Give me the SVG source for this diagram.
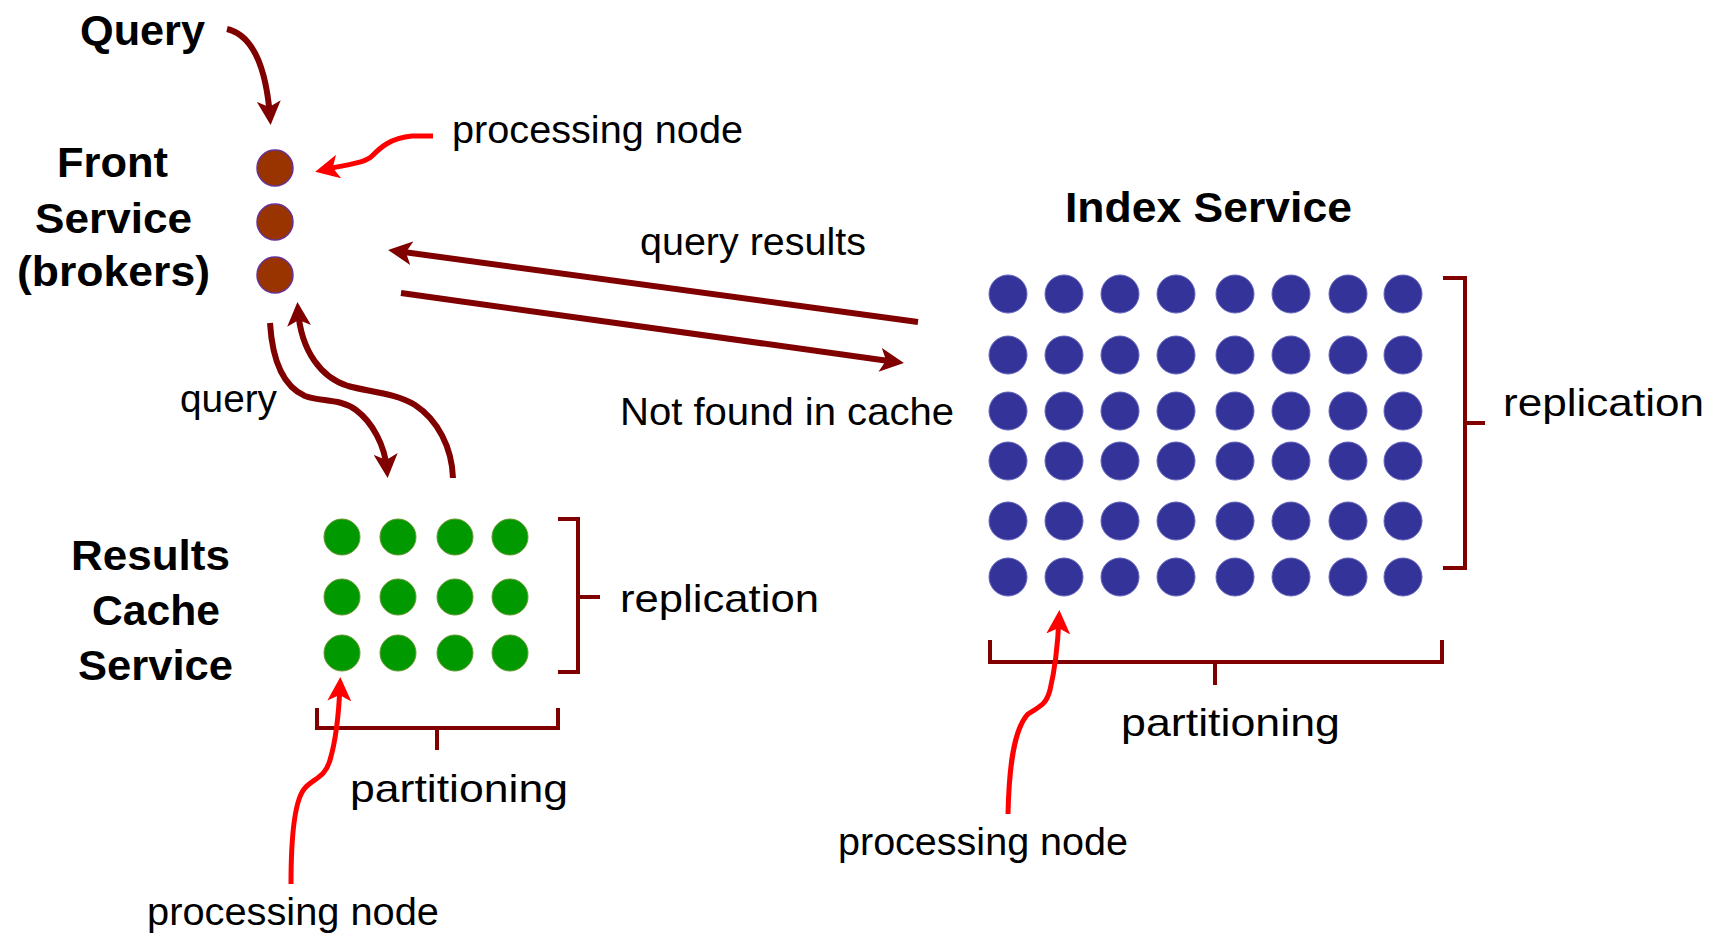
<svg xmlns="http://www.w3.org/2000/svg" width="1717" height="936" viewBox="0 0 1717 936">
<style>
.b{font-family:"Liberation Sans",Arial,sans-serif;font-weight:bold;font-size:43px;fill:#000}
.r{font-family:"Liberation Sans",Arial,sans-serif;font-size:39px;fill:#000}
.dr{fill:none;stroke:#800000;stroke-width:6}
.rd{fill:none;stroke:#ff0000;stroke-width:5}
.br{fill:none;stroke:#800000;stroke-width:4}
.fn{fill:#993300;stroke:#663399;stroke-width:1.5}
.cn{fill:#009900;stroke:#669933;stroke-width:1}
.ix{fill:#333399;stroke:#6666bb;stroke-width:1}
</style>
<defs>
<marker id="ad" viewBox="0 0 24 24" refX="16" refY="12" markerWidth="24" markerHeight="24" markerUnits="userSpaceOnUse" orient="auto">
<path d="M0,0 L24,12 L0,24 L6,12 z" fill="#800000"/>
</marker>
<marker id="ar" viewBox="0 0 24 24" refX="16" refY="12" markerWidth="24" markerHeight="24" markerUnits="userSpaceOnUse" orient="auto">
<path d="M0,0 L24,12 L0,24 L6,12 z" fill="#ff0000"/>
</marker>
</defs>
<rect width="1717" height="936" fill="#fff"/>

<g id="front-service">
<text class="b" x="80" y="45" textLength="125" lengthAdjust="spacingAndGlyphs">Query</text>
<text class="b" x="57" y="177" textLength="111" lengthAdjust="spacingAndGlyphs">Front</text>
<text class="b" x="35" y="233" textLength="157" lengthAdjust="spacingAndGlyphs">Service</text>
<text class="b" x="17" y="286" textLength="193" lengthAdjust="spacingAndGlyphs">(brokers)</text>
<circle class="fn" cx="275" cy="168" r="18"/>
<circle class="fn" cx="275" cy="222" r="18"/>
<circle class="fn" cx="275" cy="275" r="18"/>
</g>

<g id="results-cache">
<text class="b" x="71" y="570" textLength="159" lengthAdjust="spacingAndGlyphs">Results</text>
<text class="b" x="92" y="625" textLength="128" lengthAdjust="spacingAndGlyphs">Cache</text>
<text class="b" x="78" y="680" textLength="155" lengthAdjust="spacingAndGlyphs">Service</text>
<g>
<circle class="cn" cx="342" cy="537" r="18"/><circle class="cn" cx="398" cy="537" r="18"/><circle class="cn" cx="455" cy="537" r="18"/><circle class="cn" cx="510" cy="537" r="18"/>
<circle class="cn" cx="342" cy="597" r="18"/><circle class="cn" cx="398" cy="597" r="18"/><circle class="cn" cx="455" cy="597" r="18"/><circle class="cn" cx="510" cy="597" r="18"/>
<circle class="cn" cx="342" cy="653" r="18"/><circle class="cn" cx="398" cy="653" r="18"/><circle class="cn" cx="455" cy="653" r="18"/><circle class="cn" cx="510" cy="653" r="18"/>
</g>
<path class="br" d="M558,519 H578 V672 H558 M578,597 H600"/>
<text class="r" x="620" y="612" textLength="199" lengthAdjust="spacingAndGlyphs">replication</text>
<path class="br" d="M317,708 V728 H558 V708 M437,728 V750"/>
<text class="r" x="350" y="802" textLength="218" lengthAdjust="spacingAndGlyphs">partitioning</text>
<text class="r" x="147" y="925" textLength="292" lengthAdjust="spacingAndGlyphs">processing node</text>
</g>

<g id="index-service">
<text class="b" x="1065" y="222" textLength="287" lengthAdjust="spacingAndGlyphs">Index Service</text>
<g>
<circle class="ix" cx="1008" cy="294" r="19"/><circle class="ix" cx="1064" cy="294" r="19"/><circle class="ix" cx="1120" cy="294" r="19"/><circle class="ix" cx="1176" cy="294" r="19"/><circle class="ix" cx="1235" cy="294" r="19"/><circle class="ix" cx="1291" cy="294" r="19"/><circle class="ix" cx="1348" cy="294" r="19"/><circle class="ix" cx="1403" cy="294" r="19"/>
<circle class="ix" cx="1008" cy="355" r="19"/><circle class="ix" cx="1064" cy="355" r="19"/><circle class="ix" cx="1120" cy="355" r="19"/><circle class="ix" cx="1176" cy="355" r="19"/><circle class="ix" cx="1235" cy="355" r="19"/><circle class="ix" cx="1291" cy="355" r="19"/><circle class="ix" cx="1348" cy="355" r="19"/><circle class="ix" cx="1403" cy="355" r="19"/>
<circle class="ix" cx="1008" cy="411" r="19"/><circle class="ix" cx="1064" cy="411" r="19"/><circle class="ix" cx="1120" cy="411" r="19"/><circle class="ix" cx="1176" cy="411" r="19"/><circle class="ix" cx="1235" cy="411" r="19"/><circle class="ix" cx="1291" cy="411" r="19"/><circle class="ix" cx="1348" cy="411" r="19"/><circle class="ix" cx="1403" cy="411" r="19"/>
<circle class="ix" cx="1008" cy="461" r="19"/><circle class="ix" cx="1064" cy="461" r="19"/><circle class="ix" cx="1120" cy="461" r="19"/><circle class="ix" cx="1176" cy="461" r="19"/><circle class="ix" cx="1235" cy="461" r="19"/><circle class="ix" cx="1291" cy="461" r="19"/><circle class="ix" cx="1348" cy="461" r="19"/><circle class="ix" cx="1403" cy="461" r="19"/>
<circle class="ix" cx="1008" cy="521" r="19"/><circle class="ix" cx="1064" cy="521" r="19"/><circle class="ix" cx="1120" cy="521" r="19"/><circle class="ix" cx="1176" cy="521" r="19"/><circle class="ix" cx="1235" cy="521" r="19"/><circle class="ix" cx="1291" cy="521" r="19"/><circle class="ix" cx="1348" cy="521" r="19"/><circle class="ix" cx="1403" cy="521" r="19"/>
<circle class="ix" cx="1008" cy="577" r="19"/><circle class="ix" cx="1064" cy="577" r="19"/><circle class="ix" cx="1120" cy="577" r="19"/><circle class="ix" cx="1176" cy="577" r="19"/><circle class="ix" cx="1235" cy="577" r="19"/><circle class="ix" cx="1291" cy="577" r="19"/><circle class="ix" cx="1348" cy="577" r="19"/><circle class="ix" cx="1403" cy="577" r="19"/>
</g>
<path class="br" d="M1443,278 H1465 V568 H1443 M1465,423 H1485"/>
<text class="r" x="1503" y="416" textLength="201" lengthAdjust="spacingAndGlyphs">replication</text>
<path class="br" d="M990,640 V662 H1442 V640 M1215,662 V685"/>
<text class="r" x="1121" y="736" textLength="219" lengthAdjust="spacingAndGlyphs">partitioning</text>
<text class="r" x="838" y="855" textLength="290" lengthAdjust="spacingAndGlyphs">processing node</text>
</g>

<g id="labels">
<text class="r" x="452" y="143" textLength="291" lengthAdjust="spacingAndGlyphs">processing node</text>
<text class="r" x="640" y="255" textLength="226" lengthAdjust="spacingAndGlyphs">query results</text>
<text class="r" x="620" y="425" textLength="334" lengthAdjust="spacingAndGlyphs">Not found in cache</text>
<text class="r" x="180" y="412" textLength="97" lengthAdjust="spacingAndGlyphs">query</text>
</g>

<g id="connectors">
<path class="dr" d="M227,29 C252,35 266,65 270,117" marker-end="url(#ad)"/>
<path class="dr" d="M918,322 L396,251" marker-end="url(#ad)"/>
<path class="dr" d="M401,293 L896,362" marker-end="url(#ad)"/>
<path class="dr" d="M270,323 C272,355 280,385 305,396 C320,402 340,398 356,410 C372,422 385,445 387,470" marker-end="url(#ad)"/>
<path class="dr" d="M453,478 C452,448 438,420 415,405 C395,393 370,392 348,386 C322,378 301,352 298,310" marker-end="url(#ad)"/>
<path class="rd" d="M433,136 L412,136 C390,138 380,148 372,156 C365,163 350,164 323,170" marker-end="url(#ar)"/>
<path class="rd" d="M291,884 C291,840 294,800 305,788 C314,778 325,778 330,760 C336,740 339,710 340,685" marker-end="url(#ar)"/>
<path class="rd" d="M1008,814 C1009,770 1013,730 1028,714 C1040,706 1046,705 1050,690 C1056,665 1058,640 1059,618" marker-end="url(#ar)"/>
</g>
</svg>
